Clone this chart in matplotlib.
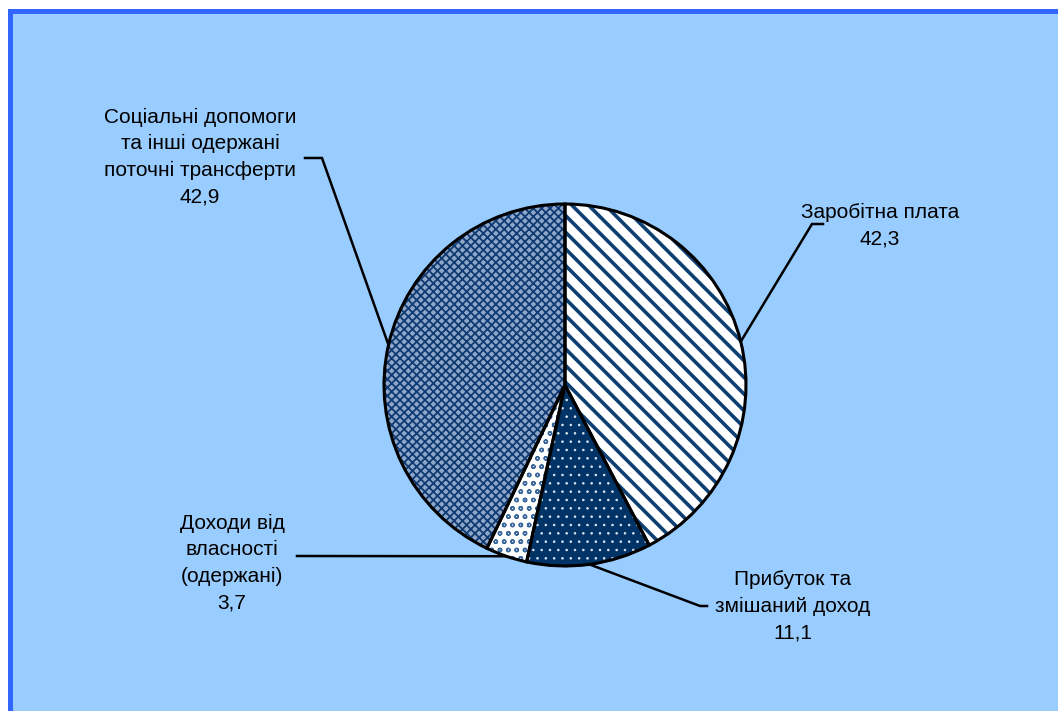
import matplotlib.pyplot as plt
import matplotlib.patches as mpatches
import numpy as np

plt.rcParams['font.family'] = ['Liberation Sans', 'DejaVu Sans']

# дані
labels = ['Заробітна плата', 'Прибуток та\nзмішаний доход',
          'Доходи від\nвласності\n(одержані)',
          'Соціальні допомоги\nта інші одержані\nпоточні трансферти']
values = [42.3, 11.1, 3.7, 42.9]

# оформлення секторів
faces = ['white', '#003366', 'white', '#8ea6c8']
hatch_cols = ['#0d3f73', '#dfe8f3', '#3a679c', '#0f3a72']
hatches = ['\\\\', '..', 'oo', 'xxxx']
hatch_lw = [2.6, 0.6, 1.0, 1.3]

# положення підписів (пікселі): центр тексту і кінець виноски
W, H = 1058, 711
txt_pos = [(880, 226), (793, 606), (232, 563), (200, 157)]
elbow = [(812, 224), (700, 606), (297, 556), (322, 158)]
elbow_end = [(823, 224), (707, 606), (297, 556), (305, 158)]

fig = plt.figure(figsize=(W / 100, H / 100), dpi=100)
fig.patch.set_facecolor('white')
ax = fig.add_axes([0, 0, 1, 1])

# фон з рамкою
ax.add_patch(mpatches.Rectangle((9.5, -20), W + 20, H - 10.5 + 20,
                                 facecolor='#99CCFF', edgecolor='#3366FF',
                                 linewidth=3.6, zorder=0))

cx, cy, r = 565, H - 385, 181

for i in range(len(values)):
    plt.rcParams['hatch.linewidth'] = hatch_lw[i]
    wedges, _ = ax.pie(values, center=(cx, cy), radius=r, startangle=90,
                       counterclock=False, frame=True)
    for j, w in enumerate(wedges):
        if j != i:
            w.remove()
        else:
            w.set_facecolor(faces[i])
            w.set_edgecolor(hatch_cols[i])
            w.set_hatch(hatches[i])
            if hasattr(w, 'set_hatch_linewidth'):
                w.set_hatch_linewidth(hatch_lw[i])
            w.set_linewidth(0)
            w.set_zorder(1)

# контури секторів
wedges, _ = ax.pie(values, center=(cx, cy), radius=r, startangle=90,
                   counterclock=False, frame=True,
                   wedgeprops=dict(facecolor='none', edgecolor='black',
                                   linewidth=2.2, zorder=2))
ax.set_xlim(0, W)
ax.set_ylim(0, H)
ax.set_aspect('equal')
ax.axis('off')

# виноски і підписи
for i, w in enumerate(wedges):
    ang = np.deg2rad((w.theta1 + w.theta2) / 2)
    x0 = cx + r * np.cos(ang)
    y0 = cy + r * np.sin(ang)
    ex, ey = elbow[i]
    fx, fy = elbow_end[i]
    ax.plot([x0, ex, fx], [y0, H - ey, H - fy], color='black', lw=1.8,
            zorder=3, solid_joinstyle='miter')
    tx, ty = txt_pos[i]
    ax.text(tx, H - ty, labels[i] + '\n' + f'{values[i]:.1f}'.replace('.', ','),
            ha='center', va='center', fontsize=15, linespacing=1.5,
            color='black', zorder=4)

fig.savefig('out.png', dpi=100, facecolor='white')
